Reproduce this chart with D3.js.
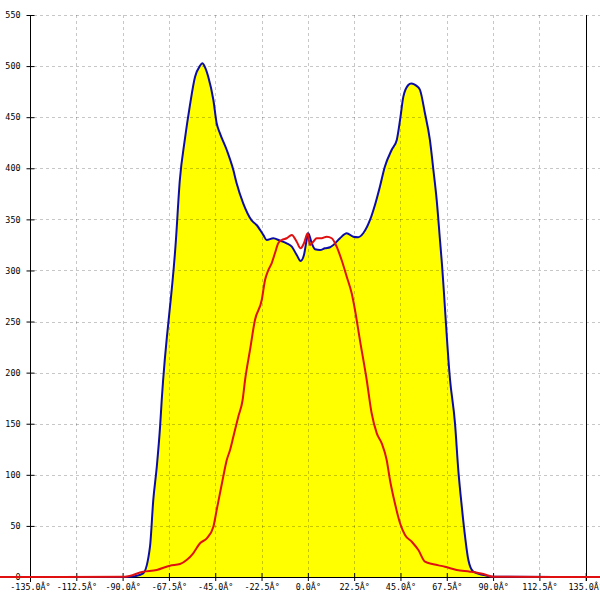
<!DOCTYPE html>
<html>
<head>
<meta charset="utf-8">
<script src="https://cdn.jsdelivr.net/npm/d3@7"></script>
<style>
html,body{margin:0;padding:0;background:#fff;}
svg{display:block;}
</style>
</head>
<body>
<svg id="chart" width="600" height="600"></svg>
<script>
const xTicks = [-135, -112.5, -90, -67.5, -45, -22.5, 0, 22.5, 45, 67.5, 90, 112.5, 135];
const xTickLabels = ["-135.0Â°","-112.5Â°","-90.0Â°","-67.5Â°","-45.0Â°","-22.5Â°","0.0Â°","22.5Â°","45.0Â°","67.5Â°","90.0Â°","112.5Â°","135.0Â°"];
const yTicks = [0, 50, 100, 150, 200, 250, 300, 350, 400, 450, 500, 550];

const blueAngles = [-150,-120,-88.9,-84,-80.0,-76.7,-75.1,-73.4,-71.8,-71.0,-64.1,-62.2,-59.8,-57.4,-54.8,-52.5,-51.3,-50.0,-48.4,-45.9,-44.3,-42.7,-39.4,-36.2,-34.6,-31.4,-27.3,-24.9,-21.6,-20.0,-16.8,-13.5,-10.3,-7.8,-5.4,-3.5,-1.9,-0.6,0.2,1.9,3.5,5.9,8.3,10.8,12.4,15.6,18.9,22.1,24.5,26.9,30.2,32.6,35.0,37.4,40.7,43.2,44.8,46.4,48.8,50.2,51.7,53.2,54.5,56.9,59.3,61.0,62.6,64.2,65.0,69.1,71.5,73.1,74.8,76.4,78.0,80.4,85.3,90.1,120,150];
const blueValues = [0,0,0,0.8,3.6,29.7,75.4,107.9,147.1,173.2,329.8,388.5,427.7,460.3,489.6,500,502.7,499,489.6,466.8,444.0,434.2,417.9,398.3,385.3,365.7,349.0,344.5,334.6,329.8,331.5,329.1,326.6,323.3,315.1,309.3,315.1,329.8,336.4,326.6,320.7,320.0,321.7,322.7,324.9,331.5,336.4,333.0,332.5,336.4,349.4,364.1,382.0,401.5,417.9,427.7,447.3,470.1,481.5,483,482.2,480,476.6,453.8,427.7,398.3,369.0,329.8,310.2,192.8,150.4,104.7,68.8,39.4,16.6,5.2,2.0,0.3,0,0];

const redAngles = [-150,-120,-88.8,-80.0,-73.4,-67.0,-62.1,-58.9,-55.7,-52.4,-49.1,-45.9,-44.3,-42.7,-41.1,-39.4,-37.8,-36.2,-33.8,-31.7,-30.5,-28.1,-25.7,-22.4,-20.8,-19.2,-17.6,-16.0,-14.4,-12.7,-10.3,-7.8,-5.4,-3.5,-1.9,-0.1,1.0,2.6,4.3,6.7,9.2,11.6,14.0,16.4,18.9,21.3,22.9,25.3,28.6,31.0,33.5,35.9,38.3,39.9,42.3,44.8,47.2,50.5,53.7,56.9,61.0,66.6,72.3,78.8,85.3,90.1,120,150];
const redValues = [0,0,0.3,5.2,6.9,11.1,12.7,16.6,23.2,33.0,37.9,49.2,65.6,81.9,98.2,114.5,124.3,137.3,156.9,173.2,192.8,222.2,251.5,271.1,290.7,300.4,307.0,316.8,326.6,329.8,331.5,334.7,328.1,321.7,326.6,336.4,324.9,328.1,331.5,331.5,333.1,331.5,323.3,310.2,293.9,277.6,261.3,231.9,192.8,160.2,140.6,130.8,114.5,94.9,72.1,52.6,41.1,34.5,26.4,15.0,12.4,10.1,6.9,5.2,2.9,0.3,0,0];

const blue = blueAngles.map((a, i) => ({a, v: blueValues[i]}));
const red = redAngles.map((a, i) => ({a, v: redValues[i]}));

const svg = d3.select("#chart");
const x = d3.scaleLinear().domain([-135, 135]).range([30, 585.7]);
const y = d3.scaleLinear().domain([0, 550]).range([577, 15]);

const font = "'DejaVu Sans Mono', monospace";

// area
const area = d3.area().x(d => x(d.a)).y0(y(0)).y1(d => y(d.v)).curve(d3.curveMonotoneX);
svg.append("path").datum(blue).attr("d", area).attr("fill", "#ffff00");

// grid (drawn over the fill)
const grid = svg.append("g");
grid.selectAll("line.h").data(yTicks.filter(d => d > 0)).join("line")
  .attr("x1", 34).attr("x2", 600)
  .attr("y1", d => Math.round(y(d)) + 0.5).attr("y2", d => Math.round(y(d)) + 0.5)
  .attr("stroke", "#000").attr("stroke-opacity", 0.22).attr("stroke-dasharray", "3,3").attr("stroke-width", 1);
grid.selectAll("line.v").data(xTicks.filter(d => d > -135 && d < 135)).join("line")
  .attr("x1", d => Math.round(x(d)) + 0.5).attr("x2", d => Math.round(x(d)) + 0.5)
  .attr("y1", 15).attr("y2", 573)
  .attr("stroke", "#000").attr("stroke-opacity", 0.22).attr("stroke-dasharray", "3,3").attr("stroke-width", 1);

// axes
const xAxis = d3.axisBottom(x).tickValues(xTicks)
  .tickFormat((d, i) => xTickLabels[i]).tickSizeInner(4).tickSizeOuter(0).tickPadding(5);
const gx = svg.append("g").attr("transform", `translate(0,${y(0)})`).call(xAxis);
gx.select(".domain").attr("stroke", "#000").attr("d", "M30,0.5H600");
gx.selectAll(".tick line").attr("y1", -4).attr("y2", 4).attr("stroke", "#000");
gx.selectAll(".tick text").attr("font-family", font).attr("font-size", "8.4px").attr("fill", "#000").attr("dy", "0.5em");

const yAxis = d3.axisLeft(y).tickValues(yTicks).tickSizeInner(4).tickSizeOuter(0).tickPadding(6);
const gy = svg.append("g").attr("transform", "translate(30.5,0)").call(yAxis);
gy.select(".domain").attr("stroke", "#000").attr("d", "M0,15V582");
gy.selectAll(".tick line").attr("x1", 4).attr("x2", -4).attr("stroke", "#000");
gy.selectAll(".tick text").attr("font-family", font).attr("font-size", "8.4px").attr("fill", "#000");

// right boundary line at the last x tick
svg.append("line")
  .attr("x1", Math.round(x(135)) + 0.5).attr("x2", Math.round(x(135)) + 0.5)
  .attr("y1", 15).attr("y2", 581)
  .attr("stroke", "#000").attr("stroke-width", 1);

// lines
const line = d3.line().x(d => x(d.a)).y(d => y(d.v)).curve(d3.curveMonotoneX);
svg.append("path").datum(blue).attr("d", line).attr("fill", "none")
  .attr("stroke", "#0c0ca8").attr("stroke-width", 2).attr("stroke-linejoin", "round");
svg.append("path").datum(red).attr("d", line).attr("fill", "none")
  .attr("stroke", "#e01010").attr("stroke-width", 2).attr("stroke-linejoin", "round");
</script>
</body>
</html>
